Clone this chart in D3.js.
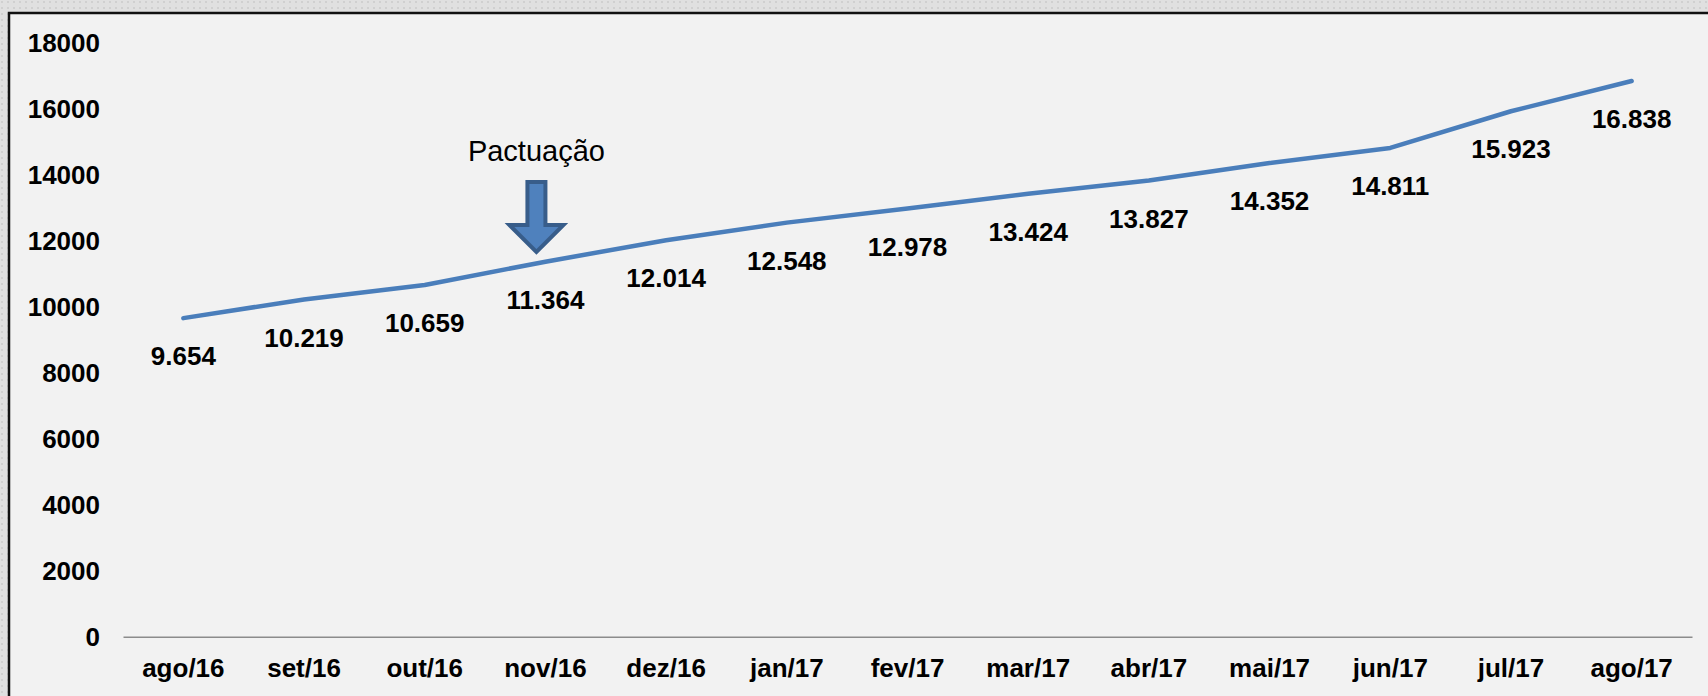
<!DOCTYPE html>
<html>
<head>
<meta charset="utf-8">
<title>Pactuação</title>
<style>
  body, html { margin: 0; padding: 0; background: #dcdcdc; }
  svg { display: block; }
  text { font-family: "Liberation Sans", Arial, sans-serif; fill: #000; }
  .tick text { font-weight: bold; font-size: 26px; }
  .lbl { font-weight: bold; font-size: 26px; }
</style>
</head>
<body>
<svg id="svg" width="1708" height="696"></svg>
<script src="https://cdnjs.cloudflare.com/ajax/libs/d3/7.8.5/d3.min.js"></script>
<script>
// months on the x axis
const months = ['ago/16', 'set/16', 'out/16', 'nov/16', 'dez/16', 'jan/17', 'fev/17',
  'mar/17', 'abr/17', 'mai/17', 'jun/17', 'jul/17', 'ago/17']
// values for each month
const values = [9654, 10219, 10659, 11364, 12014, 12548, 12978, 13424, 13827, 14352, 14811, 15923, 16838]
// y axis ticks
const yTicks = [0, 2000, 4000, 6000, 8000, 10000, 12000, 14000, 16000, 18000]
// annotation
const markMonth = 'nov/16'
const markText = 'Pactuação'

const svg = d3.select('#svg')

// textured page background
const defs = svg.append('defs')
const pat = defs.append('pattern')
  .attr('id', 'dots').attr('width', 6).attr('height', 6)
  .attr('patternUnits', 'userSpaceOnUse')
pat.append('rect').attr('width', 6).attr('height', 6).attr('fill', '#e0e0e0')
pat.append('rect').attr('x', 1).attr('y', 1).attr('width', 2).attr('height', 2).attr('fill', '#d0d0d0')
svg.append('rect').attr('width', 1708).attr('height', 696).attr('fill', 'url(#dots)')

// chart box (runs off the right and bottom edges)
svg.append('rect')
  .attr('x', 9).attr('y', 13)
  .attr('width', 1720).attr('height', 700)
  .attr('fill', '#f2f2f2')
  .attr('stroke', '#111').attr('stroke-width', 2.5)

const x = d3.scaleBand().domain(months).range([123, 1692])
const y = d3.scaleLinear().domain([0, 18000]).range([636.7, 42.7])
const cx = d => x(d) + x.bandwidth() / 2

// y axis labels
const yAxis = svg.append('g')
  .attr('transform', 'translate(100,0)')
  .call(d3.axisLeft(y).tickValues(yTicks).tickSize(0).tickPadding(0).tickFormat(d3.format('d')))
yAxis.select('.domain').remove()
yAxis.selectAll('text').attr('dy', '0.35em')

// x axis
const xAxis = svg.append('g')
  .attr('transform', `translate(0,${y(0)})`)
  .call(d3.axisBottom(x).tickSize(0).tickPadding(31))
xAxis.select('.domain').attr('stroke', '#8c8c8c').attr('stroke-width', 1.5)
xAxis.selectAll('text').attr('dy', '0.35em')

// line
const line = d3.line()
  .x((d, i) => cx(months[i]))
  .y(d => y(d))
svg.append('path')
  .datum(values)
  .attr('d', line)
  .attr('fill', 'none')
  .attr('stroke', '#4a7ebb')
  .attr('stroke-width', 4.5)
  .attr('stroke-linejoin', 'round')
  .attr('stroke-linecap', 'round')

// data labels below each point
const fmt = d3.formatLocale({ decimal: ',', thousands: '.', grouping: [3], currency: ['', ''] }).format(',d')
svg.selectAll('.lbl')
  .data(values)
  .enter().append('text')
  .attr('class', 'lbl')
  .attr('x', (d, i) => cx(months[i]))
  .attr('y', d => y(d) + 38)
  .attr('dy', '0.35em')
  .attr('text-anchor', 'middle')
  .text(d => fmt(d))

// arrow annotation
const ax = cx(markMonth) - 9
const arrow = [[-9, 182], [9, 182], [9, 225], [27, 225], [0, 252], [-27, 225], [-9, 225]]
svg.append('path')
  .attr('d', 'M' + arrow.map(p => `${ax + p[0]},${p[1]}`).join('L') + 'Z')
  .attr('fill', '#4f81bd')
  .attr('stroke', '#385d8a')
  .attr('stroke-width', 4)
  .attr('stroke-linejoin', 'miter')

svg.append('text')
  .attr('x', ax)
  .attr('y', 161)
  .attr('text-anchor', 'middle')
  .style('font-size', '29px')
  .text(markText)
</script>
</body>
</html>
